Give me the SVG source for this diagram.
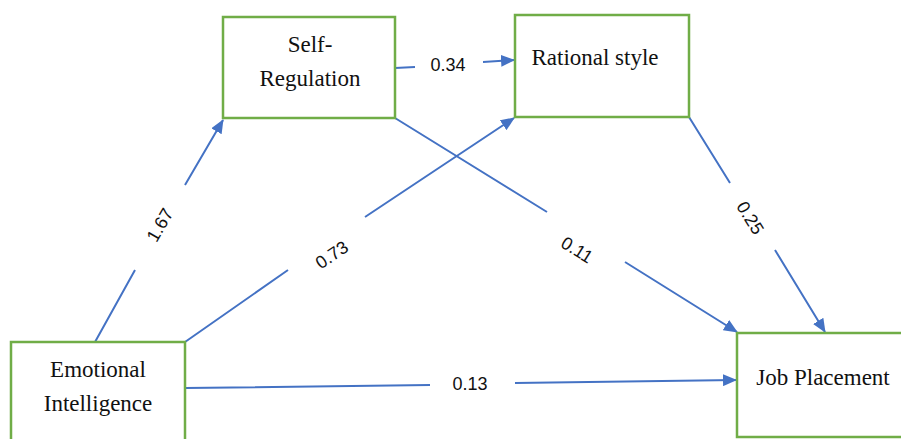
<svg xmlns="http://www.w3.org/2000/svg" width="901" height="439" viewBox="0 0 901 439">
  <style>
    .box { fill: #ffffff; stroke: #70AD47; stroke-width: 2.5; }
    .lbl { font-family: "Liberation Serif", "Times New Roman", serif; font-size: 23px; fill: #111111; text-anchor: middle; }
    .coef { font-family: "Liberation Sans", Arial, sans-serif; font-size: 18px; fill: #111111; text-anchor: middle; dominant-baseline: central; }
    .conn { fill: none; stroke: #4472C4; stroke-width: 2; marker-end: url(#arrow); }
  </style>
  <defs>
    <marker id="arrow" markerUnits="userSpaceOnUse" markerWidth="14" markerHeight="12" refX="13" refY="6" orient="auto">
      <path d="M0,0 L14,6 L0,12 Z" fill="#4472C4"/>
    </marker>
  </defs>
  <rect width="901" height="439" fill="#ffffff"/>

  <g id="connectors">
    <path class="conn" d="M95,342 L135,270 M185,185 L223,120"/>
    <path class="conn" d="M185,342 L288,270 M365,217 L514,118"/>
    <path class="conn" d="M185,388 L430,385 M515,383 L736,380"/>
    <path class="conn" d="M395,68 L415,67 M483,62 L514,60"/>
    <path class="conn" d="M395,118 L547,212 M625,262 L737,332"/>
    <path class="conn" d="M689,117 L730,183 M775,250 L825,332"/>
    <text class="coef" transform="translate(160,225) rotate(-60)">1.67</text>
    <text class="coef" transform="translate(332,255) rotate(-34)">0.73</text>
    <text class="coef" x="470" y="384">0.13</text>
    <text class="coef" x="448" y="65">0.34</text>
    <text class="coef" transform="translate(577,250) rotate(32)">0.11</text>
    <text class="coef" transform="translate(750,218) rotate(58)">0.25</text>
  </g>

  <g id="self-regulation">
    <rect class="box" x="223" y="17" width="172" height="101"/>
    <text class="lbl" x="310" y="52">Self-</text>
    <text class="lbl" x="310" y="86">Regulation</text>
  </g>

  <g id="rational-style">
    <rect class="box" x="515" y="15" width="174" height="102"/>
    <text class="lbl" x="595" y="65">Rational style</text>
  </g>

  <g id="emotional-intelligence">
    <rect class="box" x="11" y="342" width="174" height="100"/>
    <text class="lbl" x="98" y="377">Emotional</text>
    <text class="lbl" x="98" y="411">Intelligence</text>
  </g>

  <g id="job-placement">
    <rect class="box" x="737" y="333" width="170" height="104"/>
    <text class="lbl" x="823" y="385">Job Placement</text>
  </g>
</svg>
